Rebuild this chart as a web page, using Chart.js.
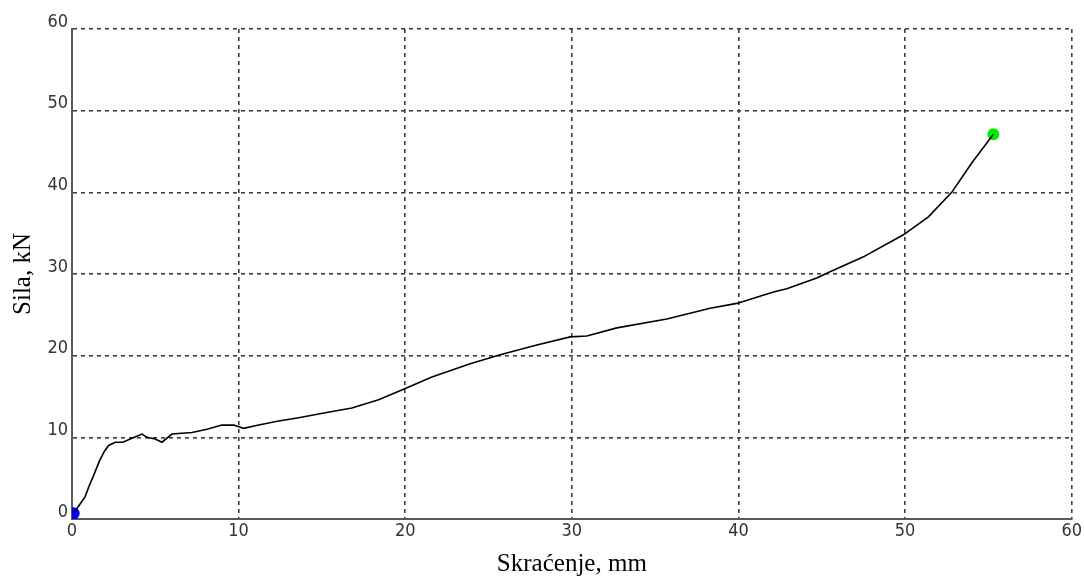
<!DOCTYPE html>
<html>
<head>
<meta charset="utf-8">
<script src="https://cdn.jsdelivr.net/npm/chart.js@4.4.0/dist/chart.umd.min.js"></script>
<style>
    html, body { margin: 0; padding: 0; background: #fff; }
    #wrap { width: 1084px; height: 580px; position: relative; }
</style>
</head>
<body>
<div id="wrap"><canvas id="force-chart" width="1084" height="580"></canvas></div>
<script>
// Skraćenje (mm) and Sila (kN)
const shortening = [0.1, 0.4, 0.78, 1.0, 1.25, 1.67, 1.95, 2.2, 2.6, 3.05, 3.6, 4.2, 4.5, 5.0, 5.4, 6.0, 7.2, 8.1, 9.0, 9.7, 10.3, 11.2, 12.4, 13.6, 15.2, 16.8, 18.4, 19.9, 21.6, 23.9, 25.7, 27.9, 29.9, 30.9, 32.7, 35.7, 38.3, 39.9, 42.1, 42.9, 44.7, 45.3, 47.5, 49.9, 51.4, 52.8, 54.0, 55.3];
const force = [0.7, 1.6, 2.7, 3.9, 5.1, 7.2, 8.3, 9.0, 9.4, 9.4, 9.9, 10.4, 10.0, 9.8, 9.4, 10.4, 10.6, 11.0, 11.5, 11.5, 11.1, 11.5, 12.0, 12.4, 13.0, 13.6, 14.6, 15.9, 17.4, 19.0, 20.1, 21.3, 22.3, 22.4, 23.4, 24.5, 25.8, 26.4, 27.8, 28.2, 29.5, 30.1, 32.1, 34.8, 37.0, 40.0, 43.6, 47.1];

const xTicks = [0, 10, 20, 30, 40, 50, 60];
const yTicks = [0, 10, 20, 30, 40, 50, 60];

const xTitle = 'Skraćenje, mm';
const yTitle = 'Sila, kN';

const tickFont = { family: "'Liberation Sans Narrow', 'DejaVu Sans Condensed', 'DejaVu Sans', sans-serif", size: 18 };
const titleFont = { family: "'Liberation Serif', 'DejaVu Serif', serif", size: 25 };
const gridColor = '#404040';
const axisColor = '#5a5a5a';

const curve = shortening.map((x, i) => ({ x: x, y: force[i] }));
const first = curve[0];
const last = curve[curve.length - 1];

new Chart(document.getElementById('force-chart'), {
    type: 'scatter',
    data: {
        datasets: [
            {
                data: curve,
                showLine: true,
                borderColor: '#000',
                borderWidth: 1.6,
                pointRadius: 0,
                tension: 0
            },
            {
                data: [first],
                pointRadius: 6,
                pointBackgroundColor: '#0000ff',
                pointBorderColor: '#0000ff',
                pointBorderWidth: 0
            },
            {
                data: [last],
                pointRadius: 6,
                pointBackgroundColor: '#00ee00',
                pointBorderColor: '#00ee00',
                pointBorderWidth: 0
            }
        ]
    },
    options: {
        responsive: false,
        animation: false,
        layout: { padding: { top: 29, right: 4, left: 0, bottom: 0 } },
        plugins: {
            legend: { display: false },
            tooltip: { enabled: false }
        },
        scales: {
            x: {
                type: 'linear',
                min: 0,
                max: 60,
                afterBuildTicks: (scale) => { scale.ticks = xTicks.map(v => ({ value: v })); },
                afterFit: (scale) => { scale.height = 61; },
                grid: { color: gridColor, lineWidth: 1.6, drawTicks: false },
                border: { display: true, color: axisColor, width: 2, dash: [4, 4] },
                ticks: { color: '#333', font: tickFont, padding: 2, maxRotation: 0 },
                title: { display: true, text: xTitle, color: '#000', font: titleFont, padding: { top: 1, bottom: 1 } }
            },
            y: {
                type: 'linear',
                min: 0,
                max: 60,
                afterBuildTicks: (scale) => { scale.ticks = yTicks.map(v => ({ value: v })); },
                afterFit: (scale) => { scale.width = 72; },
                grid: { color: gridColor, lineWidth: 1.6, drawTicks: false },
                border: { display: true, color: axisColor, width: 2, dash: [4, 4] },
                ticks: { color: '#333', font: tickFont, padding: 4, labelOffset: -7 },
                title: { display: true, text: yTitle, color: '#000', font: titleFont, padding: { top: 8, bottom: 0 } }
            }
        }
    }
});
</script>
</body>
</html>
